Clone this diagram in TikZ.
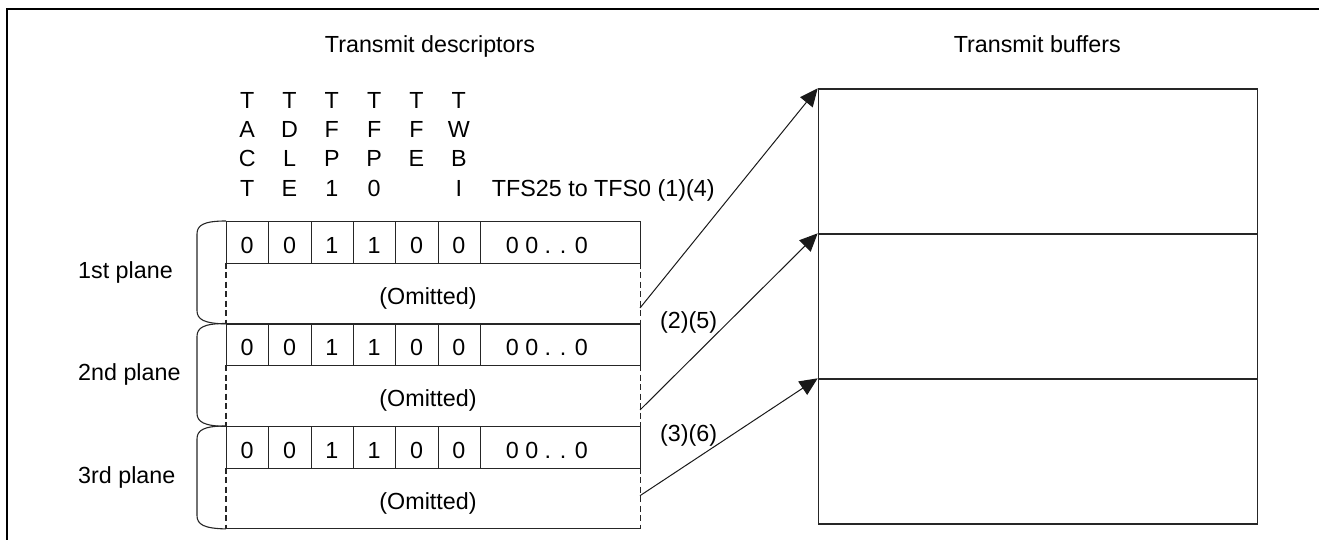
\documentclass[tikz,border=0pt]{standalone}
\usepackage{fontspec}
\setmainfont{Liberation Sans}
\usetikzlibrary{arrows.meta}
\begin{document}
\begin{tikzpicture}[x=1pt,y=-1pt,
  txt/.style={font=\fontsize{23.3}{28}\selectfont, inner sep=0pt, text=black},
  thin line/.style={line width=1.1pt, draw=black!85},
  cell/.style={thin line, draw, inner sep=0pt, minimum width=42.33pt, minimum height=41.5pt},
  dashline/.style={thin line, dash pattern=on 6pt off 3.5pt},
  buf/.style={draw, line width=1.3pt, draw=black!85, inner sep=0pt, minimum width=439.3pt, minimum height=145pt},
  arr/.style={line width=1pt, draw=black!90, -{Triangle[length=18pt,width=16pt]}},
  frame/.style={line width=2.7pt, line cap=rect}]
\useasboundingbox (0,0) rectangle (1319,540);
% frame
\draw[frame] (7,545) -- (7,9) -- (1325,9);
% titles
\node[txt, anchor=base] (tdesc) at (430,53) {Transmit descriptors};
\node[txt, anchor=base] (tbuf) at (1037.3,53) {Transmit buffers};
% bit names
\node[txt, anchor=base] (n0a) at ({226+42.33*0.5},108.3) {T};
\node[txt, anchor=base] (n0b) at ({226+42.33*0.5},137.6) {A};
\node[txt, anchor=base] (n0c) at ({226+42.33*0.5},166.9) {C};
\node[txt, anchor=base] (n0d) at ({226+42.33*0.5},196.2) {T};
\node[txt, anchor=base] (n1a) at ({226+42.33*1.5},108.3) {T};
\node[txt, anchor=base] (n1b) at ({226+42.33*1.5},137.6) {D};
\node[txt, anchor=base] (n1c) at ({226+42.33*1.5},166.9) {L};
\node[txt, anchor=base] (n1d) at ({226+42.33*1.5},196.2) {E};
\node[txt, anchor=base] (n2a) at ({226+42.33*2.5},108.3) {T};
\node[txt, anchor=base] (n2b) at ({226+42.33*2.5},137.6) {F};
\node[txt, anchor=base] (n2c) at ({226+42.33*2.5},166.9) {P};
\node[txt, anchor=base] (n2d) at ({226+42.33*2.5},196.2) {1};
\node[txt, anchor=base] (n3a) at ({226+42.33*3.5},108.3) {T};
\node[txt, anchor=base] (n3b) at ({226+42.33*3.5},137.6) {F};
\node[txt, anchor=base] (n3c) at ({226+42.33*3.5},166.9) {P};
\node[txt, anchor=base] (n3d) at ({226+42.33*3.5},196.2) {0};
\node[txt, anchor=base] (n4a) at ({226+42.33*4.5},108.3) {T};
\node[txt, anchor=base] (n4b) at ({226+42.33*4.5},137.6) {F};
\node[txt, anchor=base] (n4c) at ({226+42.33*4.5},166.9) {E};
\node[txt, anchor=base] (n5a) at ({226+42.33*5.5},108.3) {T};
\node[txt, anchor=base] (n5b) at ({226+42.33*5.5},137.6) {W};
\node[txt, anchor=base] (n5c) at ({226+42.33*5.5},166.9) {B};
\node[txt, anchor=base] (n5d) at ({226+42.33*5.5},196.2) {I};
\node[txt, anchor=base west] (tfs) at (491.7,196.2) {TFS25 to TFS0 (1)(4)};
% planes
\foreach \p/\lab in {0/1st,1/2nd,2/3rd}{
  \pgfmathsetmacro\ty{221+102.5*\p}
  \foreach \b [count=\i from 0] in {0,0,1,1,0,0}{
    \node[cell, anchor=north west] (c\p\i) at ({226+42.33*\i},\ty) {};
    \node[txt, anchor=base] (v\p\i) at ({226+42.33*(\i+0.5)},{\ty+32}) {\b};
  }
  \node[cell, minimum width=160pt, anchor=north west] (w\p) at (480,\ty) {};
  \node[txt, anchor=base west] (z\p) at (505.7,{\ty+32}) {0 0 . . 0};
  \node[inner sep=0pt, minimum width=414pt, minimum height=61pt, anchor=north west] (o\p) at (226,{\ty+41.5}) {};
  \draw[dashline] (o\p.north west) -- (o\p.south west);
  \draw[dashline] (o\p.north east) -- (o\p.south east);
  \draw[thin line] (o\p.south west) -- (o\p.south east);
  \node[txt, anchor=base] (om\p) at (428,{\ty+41.5+41.5}) {(Omitted)};
  \coordinate (bt\p) at (197,{\ty+13});
  \coordinate (bb\p) at (197,{\ty+89.5});
  \draw[thin line] (c\p0.north west) .. controls (204,\ty) and (197,{\ty+4}) .. (bt\p)
     -- (bb\p) .. controls (197,{\ty+98.5}) and (204,{\ty+102.5}) .. (o\p.south west);
  \node[txt, anchor=base west] (pl\p) at (78,{\ty+57}) {\lab\ plane};
}
% buffers
\node[buf, anchor=north west] (b1) at (817.7,88.3) {};
\node[buf, anchor=north west] (b2) at (817.7,233.3) {};
\node[buf, anchor=north west] (b3) at (817.7,378.3) {};
% arrows
\coordinate (s1) at (640,308);
\coordinate (s2) at (640,410);
\coordinate (s3) at (640,495.7);
\draw[arr] (s1) -- (b1.north west);
\draw[arr] (s2) -- (b2.north west);
\draw[arr] (s3) -- (b3.north west);
\node[txt, anchor=base west] (l25) at (660,328.2) {(2)(5)};
\node[txt, anchor=base west] (l36) at (660,441.8) {(3)(6)};
\end{tikzpicture}
\end{document}
